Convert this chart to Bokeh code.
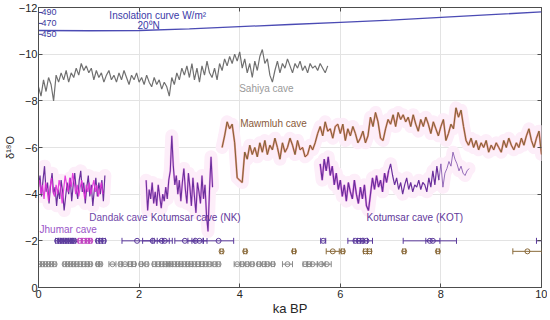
from bokeh.plotting import figure
from bokeh.models import (Range1d, FixedTicker, ColumnDataSource, Whisker, TeeHead,
                          LinearAxis)
from bokeh.core.properties import value
from bokeh.embed import file_html
from bokeh.resources import INLINE

# ---------------- data ----------------
SAHIYA_D18O = [
    -8.6, -8.2, -8.9, -8.4, -9.0, -8.7, -8.0, -9.1, -8.8, -9.2,
    -8.9, -9.3, -8.8, -9.2, -9.0, -9.4, -9.1, -9.6, -9.3, -9.5,
    -9.2, -9.4, -8.9, -9.3, -9.0, -9.2, -8.8, -9.1, -9.3, -8.9,
    -9.1, -8.8, -9.2, -8.9, -9.3, -9.0, -8.7, -9.1, -8.9, -9.2,
    -8.8, -9.0, -8.7, -9.1, -8.8, -8.6, -9.0, -8.7, -8.9, -8.5,
    -8.8, -8.6, -8.2, -9.0, -8.7, -9.2, -8.9, -9.4, -9.1, -9.5,
    -9.0, -9.6, -8.9, -9.4, -8.8, -9.5, -9.1, -9.7, -9.2, -9.0,
    -9.4, -8.9, -9.6, -9.3, -9.8, -9.5, -9.9, -9.6, -10.0, -9.7,
    -10.1, -9.4, -9.8, -9.2, -9.6, -9.0, -9.7, -9.3, -9.9, -10.2,
    -9.6, -9.8, -9.1, -8.8, -9.3, -9.7, -9.2, -9.6, -9.4, -9.8,
    -9.5, -9.2, -9.6, -9.4, -9.7, -9.3, -9.5, -9.2, -9.6, -9.4,
    -9.5, -9.3, -9.6, -9.4, -9.2, -9.5,
]
SAHIYA_START, SAHIYA_STEP = 0.0, 0.05

DANDAK_D18O = [
    -4.3, -4.8, -3.9, -4.6, -5.2, -4.1, -4.5, -3.6, -4.4, -4.9,
    -4.0, -4.3, -3.5, -4.2, -3.8, -4.6, -4.1, -3.3, -3.9, -4.5,
    -4.0, -4.7, -3.7, -4.4, -4.9, -4.2, -3.8, -4.6, -5.0, -4.1,
    -4.5, -3.6, -4.3, -4.8, -3.9, -4.4, -3.5, -4.2, -4.7, -3.9,
    -4.5, -4.0, -4.6, -3.7, -4.8,
]
DANDAK_START, DANDAK_STEP = 0.0, 0.03

JHUMAR_D18O = [
    -4.6, -4.0, -4.4, -3.8, -4.5, -4.2, -3.7, -4.3, -4.7, -4.1,
    -3.9, -4.4, -4.0, -4.6, -4.3, -3.6, -4.2, -4.8, -4.4, -4.1,
    -4.7, -4.3, -4.9, -4.5, -4.0, -4.4, -3.9, -4.3, -4.6, -4.2,
    -3.8, -4.4, -4.1, -4.5, -4.0, -4.3, -4.6, -4.1, -4.4, -3.9,
    -4.2, -4.5, -4.0,
]
JHUMAR_START, JHUMAR_STEP = 0.02, 0.03

NK_D18O = [
    -4.6, -3.3, -4.2, -3.8, -4.5, -3.6, -4.1, -3.5, -4.4, -3.9,
    -3.4, -4.0, -3.7, -4.3, -3.8, -4.6, -5.0, -6.5, -5.2, -4.4,
    -4.8, -4.0, -4.6, -3.7, -4.5, -5.1, -4.2, -3.6, -4.9, -4.3,
    -3.5, -4.7, -3.9, -3.2, -4.5, -4.1, -3.6, -4.8, -3.8, -4.4,
    -3.1, -2.4, -4.2, -5.6, -4.3,
]
NK_START, NK_STEP = 2.14, 0.03

MAWMLUH_D18O = [
    -6.0, -6.5, -7.1, -6.8, -7.0, -6.2, -4.7,
    -4.6, -4.5, -5.8, -5.5, -6.1, -5.7, -6.0, -5.6, -6.2, -5.8,
    -6.3, -5.7, -6.1, -5.9, -6.4, -6.0, -5.5, -6.2, -5.8, -6.0,
    -6.4, -6.1, -5.7, -6.3, -5.9, -6.0, -5.6, -5.7, -6.1, -5.9,
    -6.2, -6.6, -6.9, -6.5, -7.1, -6.7, -6.8, -6.4, -6.9, -7.0,
    -6.6, -7.0, -6.3, -6.8, -6.5, -6.9, -6.6, -6.2, -6.4, -6.7,
    -6.2, -6.5, -7.3, -6.9, -7.5, -7.1, -6.4, -6.3, -6.8, -7.2,
    -7.0, -7.4, -6.9, -7.5, -7.2, -7.4, -7.1, -7.3, -6.9, -7.4,
    -7.0, -6.7, -7.2, -6.9, -7.3, -7.0, -6.6, -7.1, -6.8, -6.5,
    -6.9, -7.2, -6.3, -6.6, -7.0, -6.8, -7.7, -7.3, -7.6, -6.9,
    -6.3, -6.1, -6.4, -6.0, -6.3, -5.9, -6.2, -6.0, -6.3, -5.8,
    -6.1, -5.9, -6.2, -6.0, -5.8, -6.3, -6.0, -6.4, -6.1, -5.9,
    -6.2, -6.0, -6.4, -6.1, -6.5, -6.8, -6.3, -6.0, -6.4, -6.7,
    -5.7,
]
MAWMLUH_START, MAWMLUH_STEP = 3.65, 0.05

KOT_D18O = [
    -5.3, -4.6, -5.5, -5.0, -5.6, -4.8, -5.2, -4.4, -4.9, -4.2,
    -4.6, -3.9, -4.4, -3.7, -4.5, -4.1, -3.8, -4.6, -4.0, -3.6,
    -4.3, -3.8, -4.4, -3.5, -3.3, -4.0, -4.7, -4.2, -4.8, -4.3,
    -4.6, -4.1, -4.9, -4.5, -5.0, -5.3, -4.8, -4.4, -4.7, -4.2,
    -4.5, -4.0, -4.4, -4.7, -4.2, -4.5, -4.1, -4.4, -4.3, -4.6,
    -4.2, -4.5, -4.4, -4.1, -4.7, -4.3, -5.0, -4.4, -5.2, -4.6,
    -5.3, -4.3, -4.9, -5.1, -5.4, -5.2, -5.8, -5.5, -5.3, -5.0,
    -5.2, -4.9, -4.8, -5.0, -5.1,
]
KOT_START, KOT_STEP = 5.60, 0.04

INSOL_KA = [0, 1, 2, 3, 4, 5, 6, 7, 8, 9, 10]
INSOL_W = [457, 456.5, 457, 460, 464, 468, 472, 476, 481, 486, 491]
INSOL_TICKS = [490, 470, 450]

# dating rows (age, 2-sigma error)
DANDAK_DATES = [0.37, 0.42, 0.47, 0.52, 0.57, 0.62, 0.67, 0.71, 1.18, 1.24, 1.30]
DANDAK_ERR = [0.03] * 11
JHUMAR_DATES = [0.82, 0.90, 0.98, 1.03]
JHUMAR_ERR = [0.03, 0.03, 0.03, 0.03]
NK_DATES = [1.96, 2.27, 2.45, 2.51, 2.91, 3.12, 3.20, 3.58]
NK_ERR = [0.30, 0.20, 0.15, 0.15, 0.20, 0.15, 0.15, 0.30]
KOT_DATES = [5.66, 6.30, 6.37, 6.44, 6.52, 7.78, 7.84, 10.30]
KOT_ERR = [0.05, 0.15, 0.10, 0.10, 0.12, 0.53, 0.14, 0.40]
MAW_DATES = [3.64, 4.11, 5.08, 5.85, 6.05, 6.50, 6.58, 7.27, 7.94, 9.72]
MAW_ERR = [0.03, 0.03, 0.03, 0.13, 0.03, 0.04, 0.04, 0.03, 0.03, 0.29]
SAH_DATES = [0.02, 0.08, 0.14, 0.20, 0.26, 0.32, 0.52, 0.58, 0.64, 0.70, 0.76,
             0.83, 0.90, 0.97, 1.03, 1.18, 1.23, 1.47, 1.63, 1.72, 1.82, 1.90,
             2.04, 2.15, 2.30, 2.38, 2.45, 2.52, 2.58, 2.63, 2.70, 2.77, 2.83,
             2.90, 2.97, 3.03, 3.10, 3.17, 3.25, 3.32, 3.40, 3.50, 3.58, 3.95,
             4.05, 4.15, 4.25, 4.38, 4.48, 4.55, 4.66, 4.95, 5.30, 5.38, 5.45,
             5.62, 5.73]
SAH_ERR = [0.03] * 17 + [0.07, 0.03, 0.06, 0.03, 0.03] + [0.03] * 21 + [0.06] + \
          [0.03] * 7 + [0.10, 0.04, 0.04, 0.10, 0.08, 0.09]
ROW_Y = {"purple": -2.0, "brown": -1.55, "gray": -1.0}

X_TICKS = [0, 2, 4, 6, 8, 10]
Y_TICKS = [-12, -10, -8, -6, -4, -2, 0]

FONT = "Liberation Sans"


def ages(vals, start, step):
    return [round(start + step * i, 3) for i in range(len(vals))]


# ---------------- figure ----------------
p = figure(frame_width=503, frame_height=280, x_range=Range1d(0, 10), y_range=Range1d(0, -12),
           output_backend="svg", toolbar_location=None,
           min_border_left=36, min_border_right=6, min_border_top=7, min_border_bottom=0)
p.extra_y_ranges = {"insol": Range1d(-13.6, 499.1)}

p.background_fill_color = "white"
p.border_fill_color = "white"
p.outline_line_color = "#4d4d4d"
p.outline_line_width = 1

p.xaxis.ticker = FixedTicker(ticks=X_TICKS)
p.yaxis.ticker = FixedTicker(ticks=Y_TICKS)
for ax in (p.xaxis[0], p.yaxis[0]):
    ax.major_tick_in = 4
    ax.major_tick_out = 0
    ax.minor_tick_line_color = None
    ax.axis_line_color = "#4d4d4d"
    ax.major_tick_line_color = "#4d4d4d"
    ax.major_label_text_font = FONT
    ax.major_label_text_font_size = "11px"
    ax.major_label_text_color = "#262626"
    ax.axis_label_text_font = FONT
    ax.axis_label_text_font_style = "normal"
    ax.axis_label_text_color = "#262626"
p.xaxis.axis_label = "ka BP"
p.xaxis.axis_label_text_font_size = "13px"
p.xaxis.axis_label_standoff = 0
p.xaxis.major_label_standoff = 2
p.yaxis.axis_label = "δ¹⁸O"
p.yaxis.axis_label_text_font_size = "11px"
p.yaxis.axis_label_standoff = 0
p.yaxis.major_label_standoff = 1

# box ticks on top and right, as in the original frame
for loc, ticks in (("right", Y_TICKS), ("above", X_TICKS)):
    bx = LinearAxis(ticker=FixedTicker(ticks=ticks), major_tick_in=4, major_tick_out=0,
                    minor_tick_line_color=None, axis_line_color=None,
                    major_tick_line_color="#4d4d4d", major_label_standoff=0,
                    major_label_text_font_size="1px",
                    major_label_overrides={t: "" for t in ticks})
    p.add_layout(bx, loc)

p.xgrid.ticker = FixedTicker(ticks=X_TICKS)
p.ygrid.ticker = FixedTicker(ticks=Y_TICKS)
p.grid.grid_line_color = "#e3e3e3"
p.grid.grid_line_width = 1

HALO = "#fdeef9"
PURPLE = "#6a2f9c"
MAGENTA = "#e030d8"

# ---------------- halos ----------------
dk = ages(DANDAK_D18O, DANDAK_START, DANDAK_STEP)
jh = ages(JHUMAR_D18O, JHUMAR_START, JHUMAR_STEP)
nk = ages(NK_D18O, NK_START, NK_STEP)
mw = ages(MAWMLUH_D18O, MAWMLUH_START, MAWMLUH_STEP)
kt = ages(KOT_D18O, KOT_START, KOT_STEP)
sh = ages(SAHIYA_D18O, SAHIYA_START, SAHIYA_STEP)

for xs, ys in ((dk, DANDAK_D18O), (nk, NK_D18O), (mw, MAWMLUH_D18O), (kt, KOT_D18O)):
    p.line(xs, ys, line_color=HALO, line_width=13, line_join="round", line_cap="round")

# ---------------- series ----------------
p.line(INSOL_KA, INSOL_W, y_range_name="insol", line_color="#4b4bb4", line_width=1.3)
p.scatter(x=[0] * len(INSOL_TICKS), y=INSOL_TICKS, y_range_name="insol", marker="dash",
          size=8, line_color="#3a3aa0", line_width=1)
p.text(x=[0.06] * len(INSOL_TICKS), y=INSOL_TICKS, y_range_name="insol",
       text=[str(v) for v in INSOL_TICKS], text_font=value(FONT), text_font_size="9px",
       text_color="#3a3aa0", text_baseline="middle", text_align="left")

p.line(sh, SAHIYA_D18O, line_color="#707070", line_width=1.2)

p.line(dk, DANDAK_D18O, line_color=PURPLE, line_width=1.2)
p.line(jh, JHUMAR_D18O, line_color=MAGENTA, line_width=1.2, line_alpha=0.9)

p.line(nk, NK_D18O, line_color=MAGENTA, line_width=2.0, line_alpha=0.35)
p.line(nk, NK_D18O, line_color=PURPLE, line_width=1.1)

p.line(mw, MAWMLUH_D18O, line_color="#e0503c", line_width=2.0, line_alpha=0.55)
p.line(mw, MAWMLUH_D18O, line_color="#7d6235", line_width=1.0)

cut = 60
p.line(kt[:35], KOT_D18O[:35], line_color=MAGENTA, line_width=2.2, line_alpha=0.45)
p.line(kt[:cut], KOT_D18O[:cut], line_color=PURPLE, line_width=1.2)
p.line(kt[cut - 1:], KOT_D18O[cut - 1:], line_color="#7a4aa8", line_width=0.8)


# ---------------- dating rows ----------------
def dates(xs, errs, y, color):
    src = ColumnDataSource(dict(x=xs, y=[y] * len(xs),
                                lo=[a - e for a, e in zip(xs, errs)],
                                hi=[a + e for a, e in zip(xs, errs)]))
    w = Whisker(source=src, base="y", lower="lo", upper="hi", dimension="width",
                line_color=color, line_width=1,
                lower_head=TeeHead(size=6, line_color=color, line_width=1),
                upper_head=TeeHead(size=6, line_color=color, line_width=1))
    p.add_layout(w)
    p.scatter("x", "y", source=src, marker="circle", size=5, fill_alpha=0,
              line_color=color, line_width=1)


dates(DANDAK_DATES, DANDAK_ERR, ROW_Y["purple"], "#5b3a9c")
dates(JHUMAR_DATES, JHUMAR_ERR, ROW_Y["purple"], "#c040c0")
dates(NK_DATES, NK_ERR, ROW_Y["purple"], "#5b3a9c")
dates(KOT_DATES, KOT_ERR, ROW_Y["purple"], "#5b3a9c")
dates(MAW_DATES, MAW_ERR, ROW_Y["brown"], "#8a6a3a")
dates(SAH_DATES, SAH_ERR, ROW_Y["gray"], "#8a8a8a")

# ---------------- labels ----------------
def label(x, y, t, color, size="10px", align="left"):
    p.text(x=[x], y=[y], text=[t], text_font=value(FONT), text_font_size=size,
           text_color=color, text_baseline="middle", text_align=align)


label(3.99, -8.51, "Sahiya cave", "#9a9a9a")
label(4.01, -7.02, "Mawmluh cave", "#8a5a3a")
label(1.01, -3.02, "Dandak cave", "#7048a8")
label(2.23, -2.98, "Kotumsar cave (NK)", "#62379a")
label(0.02, -2.47, "Jhumar cave", "#9a55c8")
label(6.52, -2.98, "Kotumsar cave (KOT)", "#62379a")
label(2.37, -11.66, "Insolation curve W/m²", "#3a3aa8", align="center")
label(2.19, -11.23, "20⁰N", "#3a3aa8", align="center")

open("out.html", "w").write(file_html(p, INLINE))
